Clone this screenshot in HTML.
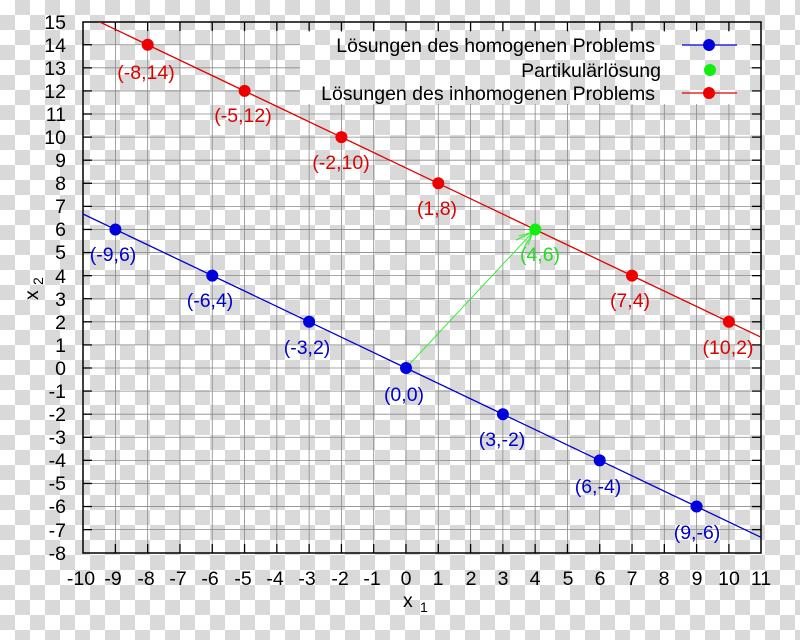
<!DOCTYPE html>
<html><head><meta charset="utf-8"><style>
html,body{margin:0;padding:0;width:800px;height:640px;overflow:hidden;background:#fff}
text{font-family:"Liberation Sans",sans-serif;font-size:19.5px}
</style></head><body>
<svg width="800" height="640" viewBox="0 0 800 640" xmlns="http://www.w3.org/2000/svg">
<defs>
<pattern id="ck" width="30" height="30" patternUnits="userSpaceOnUse">
<rect width="30" height="30" fill="#fff"/>
<rect x="15" y="0" width="15" height="15" fill="#d9d9d9"/>
<rect x="0" y="15" width="15" height="15" fill="#d9d9d9"/>
</pattern>
<clipPath id="cp"><rect x="83" y="22" width="678" height="531"/></clipPath>
</defs>
<rect width="800" height="640" fill="url(#ck)"/>
<g id="grid" stroke="#8a8a8a" stroke-width="0.8"></g>
<rect x="300" y="32" width="450" height="72" fill="url(#ck)"/>
<g id="ticks" stroke="#000" stroke-width="1.3"></g>
<rect x="83" y="22" width="678" height="531" fill="none" stroke="#000" stroke-width="1.5"/>
<g clip-path="url(#cp)">
<line x1="83" y1="14" x2="761" y2="337.2" stroke="#e00000" stroke-width="1.3"/>
<line x1="83" y1="214" x2="761" y2="537.3" stroke="#0000d0" stroke-width="1.3"/>
</g>
<g stroke="#33ee33" stroke-width="1" fill="none">
<line x1="406" y1="368" x2="533" y2="232"/>
<path d="M519,236 L533,232 L528,245 M516,240 L533,232 L524,248"/>
</g>
<g fill="#0000dd">
<circle cx="115.4" cy="229.5" r="6"/><circle cx="212.3" cy="275.6" r="6"/><circle cx="309.1" cy="321.8" r="6"/><circle cx="406" cy="368" r="6"/><circle cx="502.9" cy="414.2" r="6"/><circle cx="599.7" cy="460.4" r="6"/><circle cx="696.6" cy="506.5" r="6"/>
</g>
<g fill="#ee0000">
<circle cx="147.7" cy="44.7" r="6"/><circle cx="244.6" cy="90.9" r="6"/><circle cx="341.4" cy="137.1" r="6"/><circle cx="438.3" cy="183.3" r="6"/><circle cx="632" cy="275.6" r="6"/><circle cx="728.9" cy="321.8" r="6"/>
</g>
<circle cx="535.2" cy="229.5" r="6" fill="#11ee11"/>
<g fill="#0000cc" text-anchor="middle">
<text x="113" y="261">(-9,6)</text><text x="210" y="307">(-6,4)</text><text x="307" y="354">(-3,2)</text><text x="404" y="401">(0,0)</text><text x="502" y="446">(3,-2)</text><text x="598" y="493">(6,-4)</text><text x="697" y="539">(9,-6)</text>
</g>
<g fill="#dd0000" text-anchor="middle">
<text x="146" y="79">(-8,14)</text><text x="243" y="122">(-5,12)</text><text x="341" y="169">(-2,10)</text><text x="437" y="215">(1,8)</text><text x="630" y="307">(7,4)</text><text x="728" y="354">(10,2)</text>
</g>
<text x="540" y="261" text-anchor="middle" fill="#22dd22">(4,6)</text>
<g text-anchor="end" fill="#000">
<text x="655" y="52">Lösungen des homogenen Problems</text>
<text x="661" y="77">Partikulärlösung</text>
<text x="655" y="100">Lösungen des inhomogenen Problems</text>
</g>
<line x1="682" y1="45" x2="737" y2="45" stroke="#0000d0" stroke-width="1.3"/><circle cx="709" cy="45" r="6" fill="#0000dd"/>
<circle cx="710" cy="70" r="6" fill="#11ee11"/>
<line x1="682" y1="93" x2="737" y2="93" stroke="#e00000" stroke-width="1.3"/><circle cx="709" cy="93" r="6" fill="#ee0000"/>
<g text-anchor="end" fill="#000">
<text x="66" y="29">15</text><text x="66" y="52">14</text><text x="66" y="75">13</text><text x="66" y="98">12</text><text x="66" y="121">11</text><text x="66" y="144">10</text><text x="66" y="167">9</text><text x="66" y="190">8</text><text x="66" y="213">7</text><text x="66" y="236">6</text><text x="66" y="259">5</text><text x="66" y="283">4</text><text x="66" y="306">3</text><text x="66" y="329">2</text><text x="66" y="352">1</text><text x="66" y="375">0</text><text x="66" y="398">-1</text><text x="66" y="421">-2</text><text x="66" y="444">-3</text><text x="66" y="467">-4</text><text x="66" y="490">-5</text><text x="66" y="513">-6</text><text x="66" y="537">-7</text><text x="66" y="560">-8</text>
</g>
<g text-anchor="middle" fill="#000">
<text x="81" y="585">-10</text><text x="113" y="585">-9</text><text x="146" y="585">-8</text><text x="178" y="585">-7</text><text x="210" y="585">-6</text><text x="243" y="585">-5</text><text x="275" y="585">-4</text><text x="307" y="585">-3</text><text x="340" y="585">-2</text><text x="372" y="585">-1</text><text x="406" y="585">0</text><text x="438" y="585">1</text><text x="471" y="585">2</text><text x="503" y="585">3</text><text x="535" y="585">4</text><text x="568" y="585">5</text><text x="600" y="585">6</text><text x="632" y="585">7</text><text x="664" y="585">8</text><text x="697" y="585">9</text><text x="729" y="585">10</text><text x="761" y="585">11</text>
</g>
<text x="403" y="607">x</text><text x="420" y="612" style="font-size:14px">1</text>
<g transform="translate(38,300) rotate(-90)"><text x="0" y="0">x</text><text x="15" y="5" style="font-size:14px">2</text></g>
</svg>
<script>
var g=document.getElementById('grid'),t=document.getElementById('ticks'),ns='http://www.w3.org/2000/svg';
function L(p,a,b,c,d){var l=document.createElementNS(ns,'line');l.setAttribute('x1',a);l.setAttribute('y1',b);l.setAttribute('x2',c);l.setAttribute('y2',d);p.appendChild(l);}
for(var i=-9;i<=10;i++){var x=406+32.29*i;L(g,x,22,x,553);L(t,x,22,x,31);L(t,x,553,x,544);}
for(var j=-7;j<=14;j++){var y=368-23.09*j;L(g,83,y,761,y);L(t,83,y,92,y);L(t,761,y,752,y);}
</script>
</body></html>
